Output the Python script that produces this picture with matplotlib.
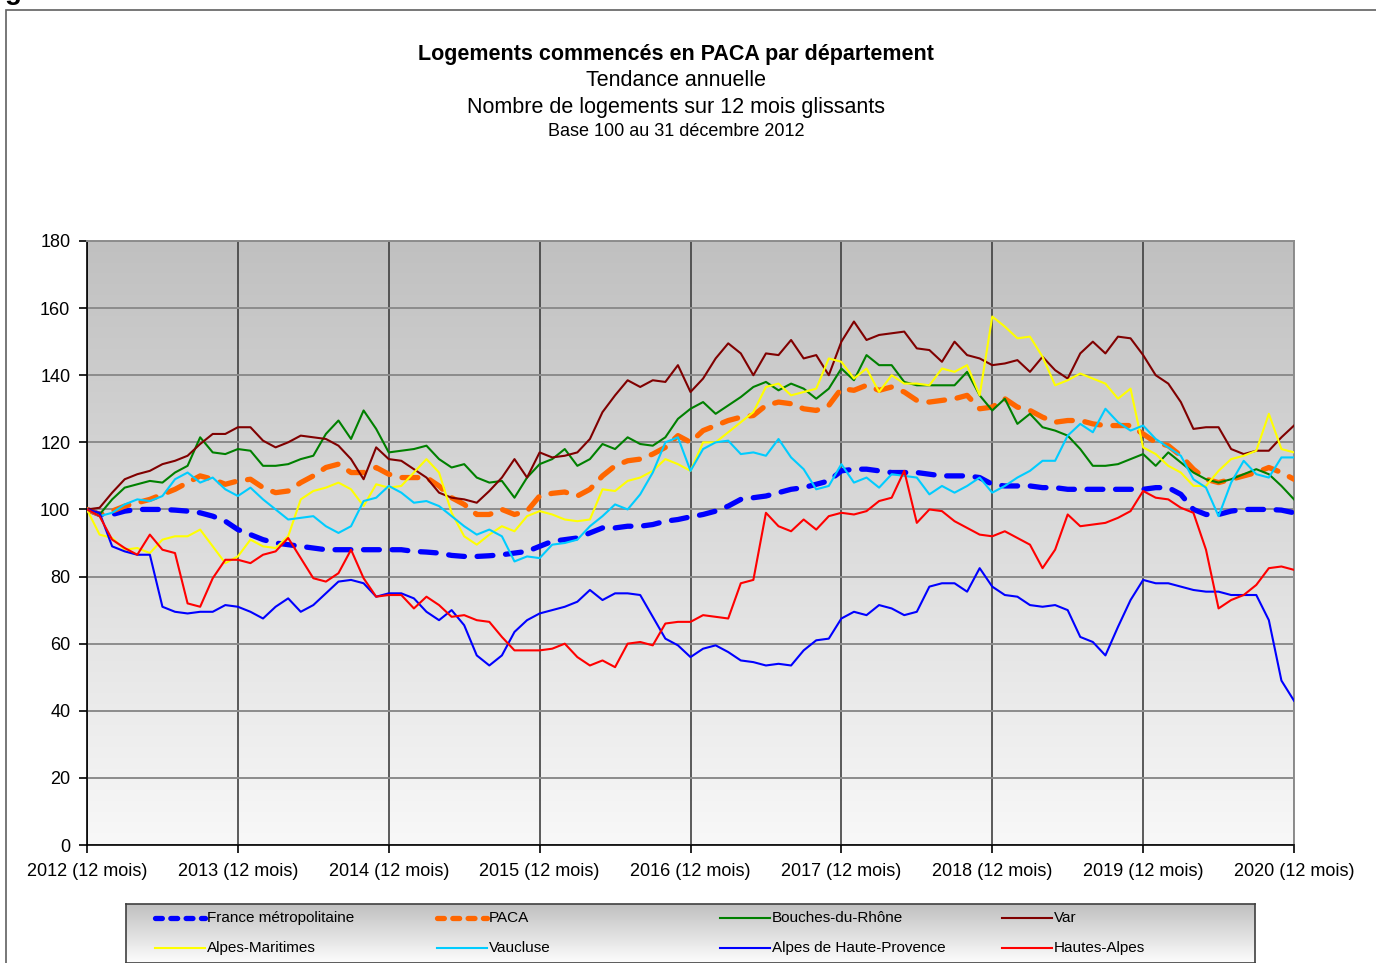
import numpy as np
import matplotlib as mpl

mpl.use('Agg')

import matplotlib.pyplot as plt
from matplotlib.colors import LinearSegmentedColormap
from matplotlib.patches import Rectangle

plt.rcParams['font.family'] = ['Liberation Sans', 'DejaVu Sans']

# années (axe x), un point par mois de déc. 2012 à déc. 2020
years = list(range(2012, 2021))
year_labels = ['{} (12 mois)'.format(y) for y in years]

# indices base 100 (97 valeurs mensuelles)
france = [100, 98.5, 98.5, 99.5, 100, 100, 100, 99.8, 99.5, 99, 98, 96.5, 94,
          92.5, 91, 90, 89.5, 89, 88.5, 88, 88, 88, 88, 88, 88,
          88, 87.5, 87.3, 87, 86.3, 86, 86, 86.2, 86.5, 87, 87.5, 89,
          90.5, 91, 91.5, 93, 94.5, 94.5, 95, 95, 95.5, 96.5, 97, 97.8,
          98.5, 99.5, 101, 103, 103.5, 104, 105, 106, 106.5, 107.5, 108.5, 111.5,
          112, 112, 111.5, 111, 111, 111, 110.5, 110, 110, 110, 109.5, 107.5,
          107, 107, 107, 106.5, 106.5, 106, 106, 106, 106, 106, 106, 106,
          106.5, 106.5, 104.5, 100, 98.5, 98.5, 99.5, 100, 100, 100, 99.8, 99]

paca = [100, 98.5, 99.5, 101, 102, 103, 104.5, 106, 108, 110, 109, 107.5, 108.5,
        109, 106.5, 105, 105.5, 108, 110, 112.5, 113.5, 111, 111, 112.5, 110.5,
        109.5, 109.5, 109.5, 107, 103.5, 101.5, 98.5, 98.5, 100, 98.5, 99.5, 104,
        104.8, 105.2, 104, 106, 110, 113, 114.5, 115, 116.5, 118.5, 122, 120,
        123.5, 125, 126.5, 127.5, 128, 131, 132, 131.5, 130, 129.5, 131, 136,
        135.5, 137, 135.5, 136.5, 135, 132.5, 132, 132.5, 133, 134, 130, 130.5,
        133, 130.5, 129.5, 127.5, 126, 126.5, 126.5, 125.5, 125, 125, 125, 122.5,
        120, 119, 116, 112, 109, 108, 109, 110, 111, 112.5, 111, 109]

bouches_du_rhone = [100, 98.5, 103, 106.5, 107.5, 108.5, 108, 111, 113, 121.5, 117, 116.5, 118,
                    117.5, 113, 113, 113.5, 115, 116, 122.5, 126.5, 121, 129.5, 124, 117,
                    117.5, 118, 119, 115, 112.5, 113.5, 109.5, 108, 108.5, 103.5, 109.5, 113.5,
                    115, 118, 113, 115, 119.5, 118, 121.5, 119.5, 119, 121.5, 127, 130,
                    132, 128.5, 131, 133.5, 136.5, 138, 135.5, 137.5, 136, 133, 136, 142,
                    138.5, 146, 143, 143, 138, 137, 137, 137, 137, 141, 134, 129.5,
                    133, 125.5, 128.5, 124.5, 123.5, 122, 118, 113, 113, 113.5, 115, 116.5,
                    113, 117, 114, 111, 109, 108, 109, 110.5, 112, 110.5, 107, 103]

var = [100, 100.5, 105, 109, 110.5, 111.5, 113.5, 114.5, 116, 119.5, 122.5, 122.5, 124.5,
       124.5, 120.5, 118.5, 120, 122, 121.5, 121, 119, 115, 109, 118.5, 115,
       114.5, 112, 109.5, 105, 103.5, 103, 102, 105.5, 109.5, 115, 109.5, 117,
       115.5, 116, 117, 121, 129, 134, 138.5, 136.5, 138.5, 138, 143, 135,
       139, 145, 149.5, 146.5, 140, 146.5, 146, 150.5, 145, 146, 140, 150,
       156, 150.5, 152, 152.5, 153, 148, 147.5, 144, 150, 146, 145, 143,
       143.5, 144.5, 141, 145.5, 141.5, 139, 146.5, 150, 146.5, 151.5, 151, 146,
       140, 137.5, 132, 124, 124.5, 124.5, 118, 116.5, 117.5, 117.5, 121.5, 125]

alpes_maritimes = [100, 92.5, 91.5, 88, 88.5, 87, 91, 92, 92, 94, 89, 84, 86,
                   91, 89, 88.5, 92, 103, 105.5, 106.5, 108, 106, 101, 107.5, 106.5,
                   107, 111, 115, 111, 99, 92, 89.5, 92.5, 95, 93.5, 98, 99.5,
                   98.5, 97, 96.5, 97, 106, 105.5, 108.5, 109.5, 111.5, 115, 113.5, 111.5,
                   120, 120, 123, 126, 129, 136.5, 137.5, 134, 135, 136, 145, 144,
                   139, 142, 135, 140, 137.5, 137.5, 137, 142, 141, 143, 134, 157.5,
                   154.5, 151, 151.5, 145.5, 137, 138.5, 140.5, 139, 137.5, 133, 136, 118.5,
                   116.5, 113, 111, 107, 107, 111.5, 115, 116, 117.5, 128.5, 118, 117]

vaucluse = [100, 98, 99, 101.5, 103, 102.5, 104, 109, 111, 108, 109.5, 106, 104,
            106.5, 103, 100, 97, 97.5, 98, 95, 93, 95, 102.5, 103.5, 107,
            105, 102, 102.5, 101, 98, 95, 92.5, 94, 92, 84.5, 86, 85.5,
            89.5, 90, 91, 95, 98, 101.5, 100, 104.5, 111, 120, 121.5, 111.5,
            118, 120, 120.5, 116.5, 117, 116, 121, 115.5, 112, 106, 107, 113.5,
            108, 109.5, 106.5, 110.5, 110, 109.5, 104.5, 107, 105, 107, 109.5, 105,
            107, 109.5, 111.5, 114.5, 114.5, 122, 125.5, 123, 130, 126, 123.5, 125,
            121, 118.5, 116, 109, 106.5, 98, 108, 114.5, 110.5, 109.5, 115.5, 115.5]

alpes_haute_provence = [100, 99, 89, 87.5, 86.5, 86.5, 71, 69.5, 69, 69.5, 69.5, 71.5, 71,
                        69.5, 67.5, 71, 73.5, 69.5, 71.5, 75, 78.5, 79, 78, 74, 75,
                        75, 73.5, 69.5, 67, 70, 65.5, 56.5, 53.5, 56.5, 63.5, 67, 69,
                        70, 71, 72.5, 76, 73, 75, 75, 74.5, 68, 61.5, 59.5, 56,
                        58.5, 59.5, 57.5, 55, 54.5, 53.5, 54, 53.5, 58, 61, 61.5, 67.5,
                        69.5, 68.5, 71.5, 70.5, 68.5, 69.5, 77, 78, 78, 75.5, 82.5, 77,
                        74.5, 74, 71.5, 71, 71.5, 70, 62, 60.5, 56.5, 65, 73, 79,
                        78, 78, 77, 76, 75.5, 75.5, 74.5, 74.5, 74.5, 67, 49, 43]

hautes_alpes = [100, 98, 91, 88.5, 86.5, 92.5, 88, 87, 72, 71, 79.5, 85, 85,
                84, 86.5, 87.5, 91.5, 85.5, 79.5, 78.5, 81, 88, 79.5, 74, 74.5,
                74.5, 70.5, 74, 71.5, 68, 68.5, 67, 66.5, 62, 58, 58, 58,
                58.5, 60, 56, 53.5, 55, 53, 60, 60.5, 59.5, 66, 66.5, 66.5,
                68.5, 68, 67.5, 78, 79, 99, 95, 93.5, 97, 94, 98, 99,
                98.5, 99.5, 102.5, 103.5, 111.5, 96, 100, 99.5, 96.5, 94.5, 92.5, 92,
                93.5, 91.5, 89.5, 82.5, 88, 98.5, 95, 95.5, 96, 97.5, 99.5, 105.5,
                103.5, 103, 100.5, 99, 88, 70.5, 73, 74.5, 77.5, 82.5, 83, 82]

W, H = 1376, 963


def fx(px):
    return px / W


def fy(py):
    return 1 - py / H


def gradient(ax, top, bottom):
    # fond dégradé vertical (gris en haut, blanc en bas)
    cmap = LinearSegmentedColormap.from_list('fond', [top, bottom])
    ax.imshow(np.linspace(0, 1, 256).reshape(-1, 1), cmap=cmap, aspect='auto',
              extent=[0, 1, 0, 1], transform=ax.transAxes, zorder=0)


def main():

    series = [
        ('France métropolitaine', france, '#0000ff', True),
        ('PACA', paca, '#ff6600', True),
        ('Bouches-du-Rhône', bouches_du_rhone, '#008000', False),
        ('Var', var, '#800000', False),
        ('Alpes-Maritimes', alpes_maritimes, '#ffff00', False),
        ('Vaucluse', vaucluse, '#00ccff', False),
        ('Alpes de Haute-Provence', alpes_haute_provence, '#0000ff', False),
        ('Hautes-Alpes', hautes_alpes, '#ff0000', False),
    ]

    fig = plt.figure(figsize=(W / 100, H / 100), dpi=100)

    # cadre extérieur + bout de lettre coupé en haut (comme sur l'original)
    fig.add_artist(Rectangle((fx(6), fy(990)), fx(1400) - fx(6), fy(10) - fy(990),
                             transform=fig.transFigure, fill=False, ec='#606060', lw=1.2))
    fig.text(fx(5), fy(-1), 'g', fontsize=20, fontweight='bold', va='baseline')

    # titres
    fig.text(fx(676), fy(60), 'Logements commencés en PACA par département',
             ha='center', va='baseline', fontsize=15.5, fontweight='bold')
    fig.text(fx(676), fy(86), 'Tendance annuelle', ha='center', va='baseline', fontsize=15.5)
    fig.text(fx(676), fy(113), 'Nombre de logements sur 12 mois glissants',
             ha='center', va='baseline', fontsize=15.5)
    fig.text(fx(676), fy(136), 'Base 100 au 31 décembre 2012', ha='center', va='baseline', fontsize=13)

    ax = fig.add_axes([fx(87), fy(845), fx(1294) - fx(87), fy(241) - fy(845)])
    gradient(ax, '#c0c0c0', '#f8f8f8')

    x = years[0] + np.arange(len(france)) / 12
    for name, values, color, dashed in series:
        if dashed:
            ax.plot(x, values, color=color, lw=3.8, ls=(0, (3, 2.4)),
                    dash_capstyle='round', zorder=3, label=name)
        else:
            ax.plot(x, values, color=color, lw=1.5, zorder=4, label=name)

    ax.set_xlim(years[0], years[-1])
    ax.set_ylim(0, 180)
    ax.set_xticks(years)
    ax.set_xticklabels(year_labels)
    ax.set_yticks(range(0, 181, 20))

    ax.set_axisbelow(True)
    ax.grid(axis='y', color='#8c8c8c', lw=1.4)
    ax.grid(axis='x', color='#404040', lw=1.2)

    ax.tick_params(direction='out', length=6, width=1.2, labelsize=13)
    ax.tick_params(axis='x', pad=7)
    ax.tick_params(axis='y', pad=6)
    for side in ['top', 'right']:
        ax.spines[side].set_color('#8c8c8c')
        ax.spines[side].set_linewidth(1.4)
    for side in ['left', 'bottom']:
        ax.spines[side].set_linewidth(1.2)

    # légende dans un cadre dégradé, 2 lignes x 4 colonnes
    legax = fig.add_axes([fx(126), 0, fx(1255) - fx(126), fy(904)])
    gradient(legax, '#bfbfbf', '#fdfdfd')
    legax.set_xlim(126, 1255)
    legax.set_ylim(963, 904)
    legax.set_xticks([])
    legax.set_yticks([])
    for side in legax.spines:
        legax.spines[side].set_color('#404040')
        legax.spines[side].set_linewidth(1.2)

    col_x = [155, 437, 720, 1002]
    row_y = [918, 948]
    for i, (name, values, color, dashed) in enumerate(series):
        x0 = col_x[i % 4]
        y0 = row_y[i // 4]
        if dashed:
            legax.plot([x0, x0 + 50], [y0, y0], color=color, lw=3.8,
                       ls=(0, (1.3, 1.6)), dash_capstyle='round')
        else:
            legax.plot([x0, x0 + 50], [y0, y0], color=color, lw=1.5)
        legax.text(x0 + 52, y0, name, va='center', ha='left', fontsize=11)

    fig.savefig('out.png', dpi=100)


main()
